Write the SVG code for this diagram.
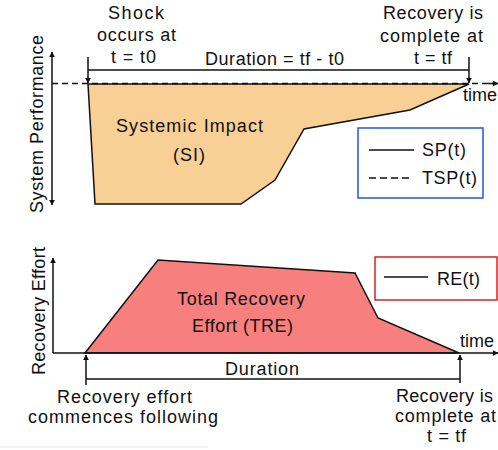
<svg xmlns="http://www.w3.org/2000/svg" width="498" height="450" viewBox="0 0 498 450">
<style>
text{font-family:"Liberation Sans",Arial,sans-serif;font-size:18px;fill:#111}
.ln{stroke:#111;stroke-width:1.5;fill:none}
.dash{stroke:#111;stroke-width:1.5;fill:none;stroke-dasharray:6,4}
.arr{marker-end:url(#ah)}
</style>
<defs>
<marker id="ah" viewBox="0 0 10 10" refX="9" refY="5" markerWidth="6" markerHeight="6" orient="auto-start-reverse" markerUnits="userSpaceOnUse">
<path d="M0,0 L10,5 L0,10 z" fill="#111"/>
</marker>
</defs>
<rect width="498" height="450" fill="#fff"/>
<line x1="0" y1="447" x2="208" y2="447" stroke="#e6e6e6" stroke-width="1"/>

<g id="si-area">
<polygon points="88,84 469,84 410,110 304,129 275,180 241,204 95,204" fill="#F8CF95" stroke="#111" stroke-width="1.5"/>
<text x="116" y="132" textLength="147" lengthAdjust="spacing">Systemic Impact</text>
<text x="173" y="161" textLength="32" lengthAdjust="spacing">(SI)</text>
</g>

<g id="tre-area">
<polygon points="85,353 158,260 355,273 378,318 459,353" fill="#F7807F" stroke="#111" stroke-width="1.5"/>
<text x="177" y="305" textLength="128" lengthAdjust="spacing">Total Recovery</text>
<text x="192" y="332" textLength="101" lengthAdjust="spacing">Effort (TRE)</text>
</g>

<g id="connectors">
<line class="ln" x1="52" y1="205" x2="52" y2="52" marker-start="url(#ah)" marker-end="url(#ah)"/>
<line class="dash" x1="52" y1="83.5" x2="496" y2="83.5"/>
<line class="ln arr" x1="488" y1="83.5" x2="498" y2="83.5"/>
<line class="ln arr" x1="88" y1="57" x2="88" y2="83"/>
<line class="ln arr" x1="469" y1="57" x2="469" y2="83"/>
<line class="ln" x1="88" y1="70" x2="469" y2="70"/>
<line class="ln arr" x1="53" y1="353" x2="53" y2="258"/>
<line class="ln arr" x1="53" y1="353" x2="498" y2="353"/>
<line class="ln arr" x1="86" y1="385" x2="86" y2="355"/>
<line class="ln arr" x1="460" y1="383" x2="460" y2="355"/>
<line class="ln" x1="86" y1="379" x2="460" y2="379"/>
</g>

<g id="axis-labels">
<text transform="translate(43,213) rotate(-90)" textLength="178" lengthAdjust="spacing">System Performance</text>
<text transform="translate(45,375) rotate(-90)" textLength="128" lengthAdjust="spacing">Recovery Effort</text>
<text x="463" y="101">time</text>
<text x="460" y="347">time</text>
</g>

<g id="shock-label">
<text x="108" y="19" textLength="56" lengthAdjust="spacing">Shock</text>
<text x="97" y="41" textLength="79" lengthAdjust="spacing">occurs at</text>
<text x="111" y="63" textLength="45" lengthAdjust="spacing">t = t0</text>
</g>

<g id="recovery-top-label">
<text x="383" y="19" textLength="100" lengthAdjust="spacing">Recovery is</text>
<text x="380" y="42" textLength="103" lengthAdjust="spacing">complete at</text>
<text x="414" y="64" textLength="38" lengthAdjust="spacing">t = tf</text>
</g>

<g id="duration-top">
<text x="205" y="65" textLength="139" lengthAdjust="spacing">Duration = tf - t0</text>
</g>

<g id="legend-sp">
<rect x="358" y="128" width="125" height="70" fill="#fff" stroke="#2457E0" stroke-width="1.5"/>
<line class="ln" x1="369" y1="150" x2="414" y2="150"/>
<text x="422" y="156" textLength="44" lengthAdjust="spacing">SP(t)</text>
<line class="ln" x1="369" y1="178" x2="412" y2="178" stroke-dasharray="7,4"/>
<text x="422" y="184" textLength="55" lengthAdjust="spacing">TSP(t)</text>
</g>

<g id="legend-re">
<rect x="375" y="257" width="122" height="43" fill="#fff" stroke="#D42424" stroke-width="1.5"/>
<line class="ln" x1="384" y1="277" x2="428" y2="277"/>
<text x="437" y="285" textLength="43" lengthAdjust="spacing">RE(t)</text>
</g>

<g id="duration-bottom">
<text x="225" y="375" textLength="74" lengthAdjust="spacing">Duration</text>
</g>

<g id="commence-label">
<text x="57" y="403" textLength="135" lengthAdjust="spacing">Recovery effort</text>
<text x="28" y="423" textLength="190" lengthAdjust="spacing">commences following</text>
</g>

<g id="recovery-bottom-label">
<text x="396" y="402" textLength="97" lengthAdjust="spacing">Recovery is</text>
<text x="395" y="422" textLength="101" lengthAdjust="spacing">complete at</text>
<text x="427" y="442" textLength="39" lengthAdjust="spacing">t = tf</text>
</g>
</svg>
